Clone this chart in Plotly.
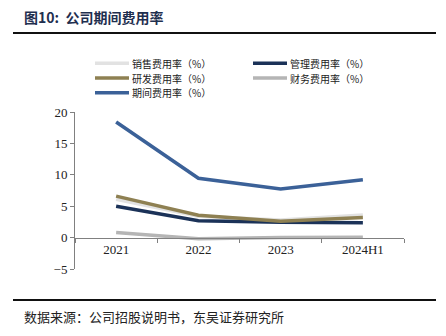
import plotly.graph_objects as go

categories = ["2021", "2022", "2023", "2024H1"]
sales = [6.1, 3.4, 2.8, 3.6]
admin = [5.0, 2.7, 2.45, 2.35]
rnd = [6.6, 3.55, 2.6, 3.2]
finance = [0.8, -0.2, 0.0, 0.05]
period = [18.4, 9.45, 7.75, 9.2]

series_names = ["销售费用率（%）", "管理费用率（%）", "研发费用率（%）", "财务费用率（%）", "期间费用率（%）"]
series_vals = [sales, admin, rnd, finance, period]
series_colors = ["#E2E2E2", "#1B3258", "#8E8052", "#B5B5B5", "#3B6198"]

W, H = 446, 336
L, R, T, B = 75, 42, 112, 67
pw = W - L - R
ph = H - T - B

def px(x):
    return (x - L) / pw

def py(y):
    return (H - B - y) / ph

fig = go.Figure()
for name, vals, col in zip(series_names, series_vals, series_colors):
    fig.add_trace(go.Scatter(x=categories, y=vals, name=name, mode="lines",
                             line=dict(color=col, width=3.5), showlegend=False))

# manual legend (2 columns, row-major order)
leg_font = 10
leg_gap = 14.8
leg_cols = [(95, 129, 131), (253, 287, 289)]
leg_mid = 78
for i, (name, col) in enumerate(zip(series_names, series_colors)):
    r, c = divmod(i, 2)
    x0, x1, xt = leg_cols[c]
    yy = leg_mid + (r - 1) * leg_gap
    fig.add_shape(type="line", xref="paper", yref="paper", x0=px(x0), x1=px(x1), y0=py(yy), y1=py(yy),
                  line=dict(color=col, width=3.5))
    fig.add_annotation(xref="paper", yref="paper", x=px(xt), y=py(yy), xanchor="left", yanchor="middle",
                       borderpad=0, text=name, showarrow=False,
                       font=dict(family="Noto Sans CJK SC", size=leg_font, color="#222"))

fig.update_layout(
    width=W, height=H,
    margin=dict(l=L, r=R, t=T, b=B),
    paper_bgcolor="white", plot_bgcolor="white",
    showlegend=False,
    xaxis=dict(type="category", range=[-0.5, 3.5], anchor="free", position=5/25,
               showline=True, linecolor="#808080", linewidth=1,
               ticks="outside", tickson="boundaries", ticklen=4, tickcolor="#808080",
               showgrid=False, zeroline=False,
               tickfont=dict(family="Liberation Serif", size=13, color="#222")),
    yaxis=dict(range=[-5, 20], dtick=5, showline=True, linecolor="#808080", linewidth=1,
               ticks="outside", ticklen=4, tickcolor="#808080", showgrid=False, zeroline=False,
               tickfont=dict(family="Liberation Serif", size=13, color="#222")),
)

# header / footer rules
fig.add_shape(type="line", xref="paper", yref="paper", x0=px(13), x1=px(436), y0=py(33), y1=py(33),
              line=dict(color="#111", width=2))
fig.add_shape(type="line", xref="paper", yref="paper", x0=px(13), x1=px(436), y0=py(300), y1=py(300),
              line=dict(color="#111", width=2))

fig.add_annotation(xref="paper", yref="paper", x=px(22), y=py(17), xanchor="left", yanchor="middle",
                   text="<b>图10:  公司期间费用率</b>", showarrow=False,
                   font=dict(family="Noto Sans CJK SC", size=14, color="#1F2F4F"))
fig.add_annotation(xref="paper", yref="paper", x=px(22), y=py(316), xanchor="left", yanchor="middle",
                   text="数据来源：公司招股说明书，东吴证券研究所", showarrow=False,
                   font=dict(family="Noto Sans CJK SC", size=13, color="#222"))

fig.write_html("out.html")
